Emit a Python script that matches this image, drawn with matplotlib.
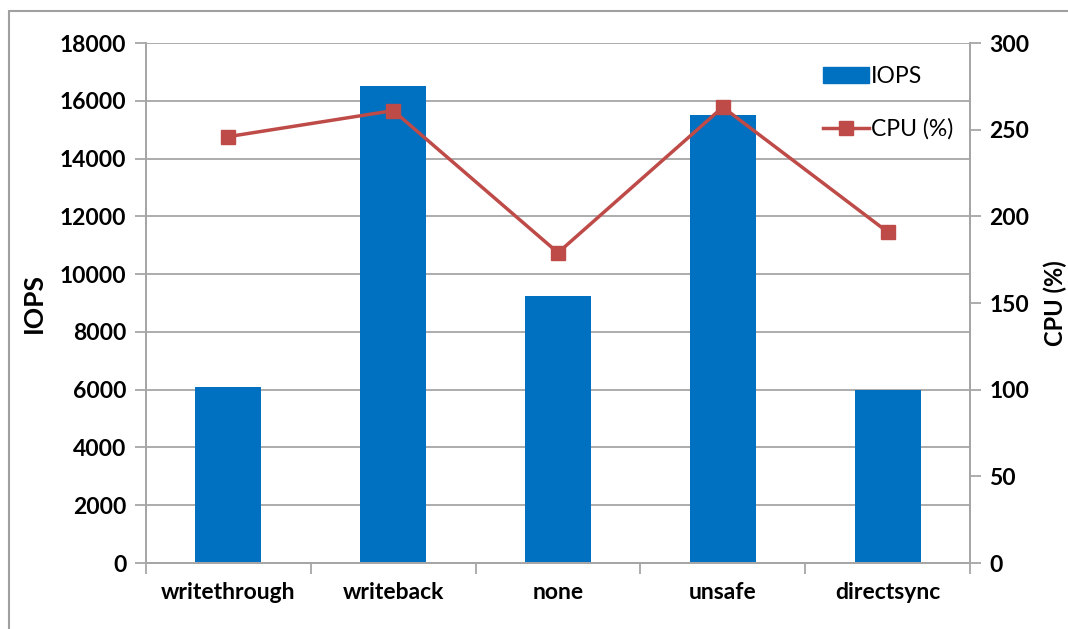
import numpy as np
import matplotlib.pyplot as plt
from matplotlib.lines import Line2D
from matplotlib.patches import Rectangle

# Data
modes = ['writethrough', 'writeback', 'none', 'unsafe', 'directsync']
iops = [6100, 16500, 9250, 15500, 5980]
cpu = [246, 261, 179, 263, 191]

iops_ticks = np.arange(0, 18001, 2000)
cpu_ticks = np.arange(0, 301, 50)

bar_color = '#0070C0'
line_color = '#BE4B48'
grid_color = '#A6A6A6'

plt.rcParams['font.family'] = ['Lato', 'DejaVu Sans']

fig = plt.figure(figsize=(10.68, 6.29), dpi=100)

# Outer chart border (only left and top edges visible in the reference)
fig.patches.append(Rectangle((9 / 1068, -0.1), 1.2, (629 - 11) / 629 + 0.1,
                             transform=fig.transFigure, fill=False,
                             edgecolor='#A0A0A0', linewidth=1.5))

ax = fig.add_axes([146 / 1068, 1 - 563 / 629, 824 / 1068, 520 / 629])
x = np.arange(len(modes))

ax.bar(x, iops, width=0.4, color=bar_color, zorder=2, label='IOPS')
ax.set_xlim(-0.5, len(modes) - 0.5)
ax.set_ylim(0, 18000)
ax.set_yticks(iops_ticks)
ax.set_yticklabels([str(v) for v in iops_ticks])
ax.yaxis.grid(True, color=grid_color, linewidth=1.3, zorder=0)
ax.set_axisbelow(True)

# Category labels centered, ticks at category boundaries
ax.set_xticks(x)
ax.set_xticklabels(modes)
ax.set_xticks(np.arange(-0.5, len(modes)), minor=True)
ax.tick_params(axis='x', which='major', length=0, pad=14)
ax.tick_params(axis='x', which='minor', length=8, color=grid_color, width=1.3)
ax.tick_params(axis='y', length=8, color=grid_color, width=1.3, pad=6)

for s in ['left', 'bottom', 'right']:
    ax.spines[s].set_color(grid_color)
    ax.spines[s].set_linewidth(1.3)
ax.spines['top'].set_visible(False)

for lab in ax.get_xticklabels() + ax.get_yticklabels():
    lab.set_fontsize(16.5)
    lab.set_fontweight('bold')

ax.set_ylabel('IOPS', fontsize=19, fontweight='bold', labelpad=10)

ax2 = ax.twinx()
ax2.plot(x, cpu, color=line_color, linewidth=2.5, marker='s', markersize=10,
         zorder=3)
ax2.set_ylim(0, 300)
ax2.set_yticks(cpu_ticks)
ax2.tick_params(axis='y', length=8, color=grid_color, width=1.3, pad=6)
for s in ['left', 'bottom', 'right']:
    ax2.spines[s].set_color(grid_color)
    ax2.spines[s].set_linewidth(1.3)
ax2.spines['top'].set_visible(False)
for lab in ax2.get_yticklabels():
    lab.set_fontsize(16.5)
    lab.set_fontweight('bold')
ax2.set_ylabel('CPU (%)', fontsize=17, fontweight='bold', labelpad=10)

handles = [Rectangle((0, 0), 1, 1, color=bar_color),
           Line2D([0], [0], color=line_color, linewidth=2.5, marker='s',
                  markersize=10)]
ax2.legend(handles, ['IOPS', 'CPU (%)'], loc='upper right',
           bbox_to_anchor=(1.005, 0.995), frameon=False, fontsize=16.5,
           handlelength=2.0, handletextpad=0.1, labelspacing=1.35)

fig.savefig('out.png', dpi=100)
